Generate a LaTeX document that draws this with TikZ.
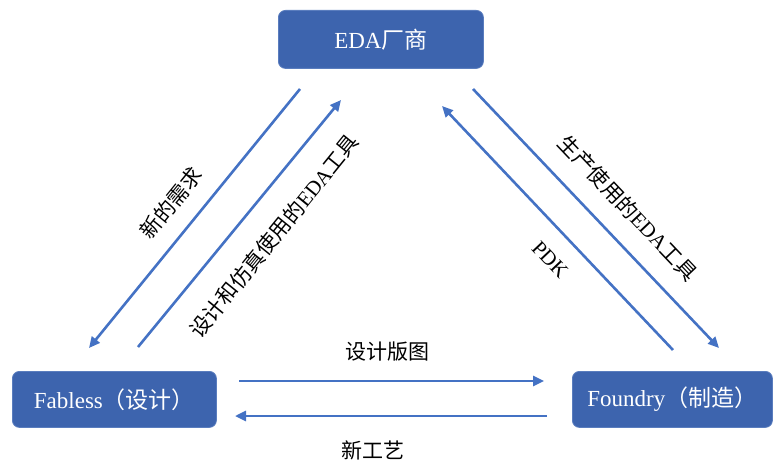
\documentclass[tikz,border=0pt]{standalone}
\usepackage{fontspec}
\setmainfont{Liberation Serif}
\newfontfamily\cjk{Noto Sans CJK SC}
\usetikzlibrary{arrows.meta}
\definecolor{boxblue}{RGB}{61,100,174}
\definecolor{boxedge}{RGB}{90,125,190}
\definecolor{arrowblue}{RGB}{68,114,196}
\tikzset{
  blockbox/.style={draw=boxedge, line width=0.8pt, fill=boxblue, rounded corners=7pt,
    text=white, font=\fontsize{23}{26}\selectfont, inner sep=0pt, anchor=north west},
  flow/.style={draw=arrowblue, line width=2.6pt, -{Triangle[length=11pt,width=10pt]}},
  lbl/.style={font=\fontsize{21}{24}\selectfont, text=black, inner sep=0pt}
}
\begin{document}
\begin{tikzpicture}[x=1pt,y=-1pt]
\useasboundingbox (0,0) rectangle (773,465);
% boxes
\node[blockbox, minimum width=205pt, minimum height=58pt] (eda) at (278,10) {EDA{\cjk 厂商}};
\node[blockbox, minimum width=204pt, minimum height=56pt] (fab) at (12,371) {Fabless{\cjk （设计）}};
\node[blockbox, minimum width=200pt, minimum height=56pt] (fnd) at (572,371) {Foundry{\cjk （制造）}};
% arrow end points
\coordinate (a1s) at (300,89);  \coordinate (a1e) at (89,348);
\coordinate (a2s) at (138,347); \coordinate (a2e) at (341,100);
\coordinate (a3s) at (673,350); \coordinate (a3e) at (442,106);
\coordinate (a4s) at (473,89);  \coordinate (a4e) at (719,348);
\coordinate (a5s) at (239,381); \coordinate (a5e) at (544,381);
\coordinate (a6s) at (547,416); \coordinate (a6e) at (235,416);
\draw[flow] (a1s) -- (a1e);
\draw[flow] (a2s) -- (a2e);
\draw[flow] (a3s) -- (a3e);
\draw[flow] (a4s) -- (a4e);
\draw[flow] (a5s) -- (a5e);
\draw[flow] (a6s) -- (a6e);
% labels
\node[lbl, rotate=51] (l1) at (171,203) {\cjk 新的需求};
\node[lbl, rotate=51] (l2) at (274,236) {{\cjk 设计和仿真使用的}EDA{\cjk 工具}};
\node[lbl, rotate=-46.5] (l3) at (628,208) {{\cjk 生产使用的}EDA{\cjk 工具}};
\node[lbl, rotate=-46.5] (l4) at (550,260) {PDK};
\node[lbl] (l5) at (387,352) {\cjk 设计版图};
\node[lbl] (l6) at (373,450) {\cjk 新工艺};
\end{tikzpicture}
\end{document}
